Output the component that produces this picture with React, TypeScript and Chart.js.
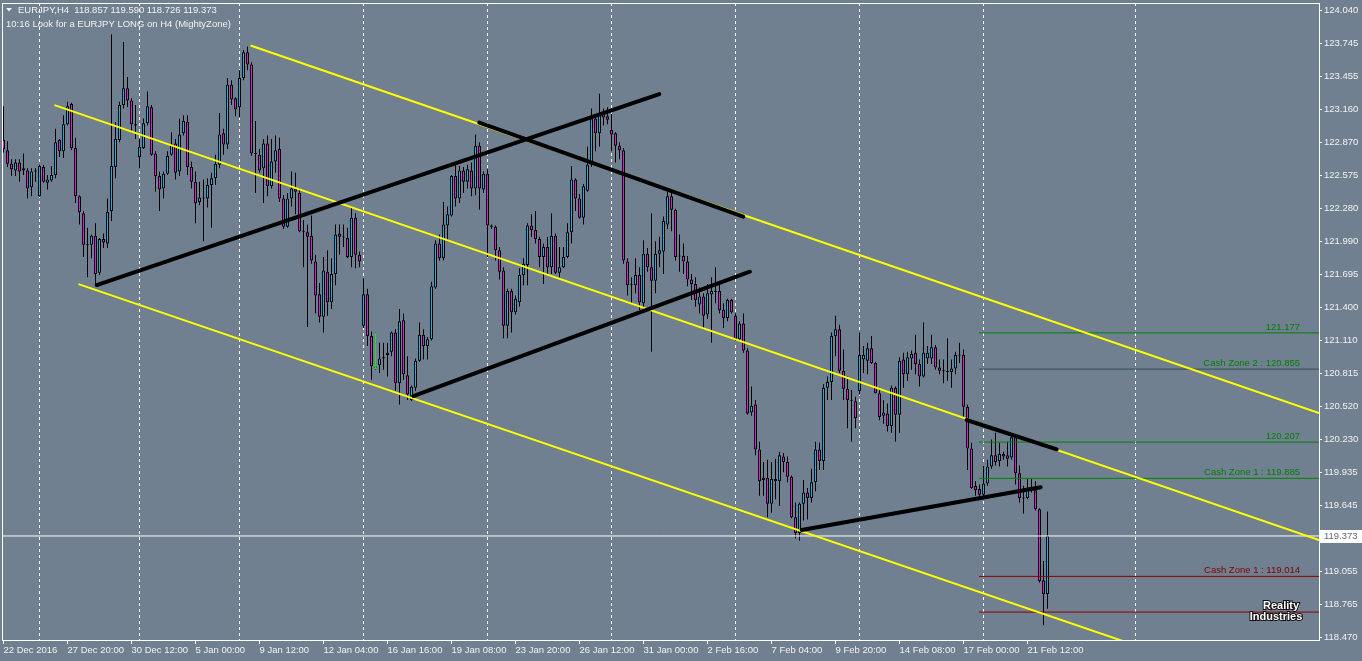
import React, { useEffect, useRef } from 'react';
import { Chart, registerables } from 'chart.js';
Chart.register(...registerables);

// ---------- DATA ----------
const opens = [
  122.89, 122.80, 122.68, 122.62, 122.69, 122.64, 122.62, 122.47, 122.61, 122.39,
  122.65, 122.51, 122.53, 122.58, 122.89, 122.79, 123.03, 123.21, 122.82, 122.39,
  122.24, 121.96, 121.96, 122.04, 121.71, 122.01, 121.97, 122.26, 122.65, 122.89,
  123.20, 123.35, 123.24, 123.03, 122.74, 122.82, 123.04, 123.18, 122.77, 122.57,
  122.46, 122.59, 122.76, 122.86, 122.61, 122.95, 123.05, 122.65, 122.52, 122.34,
  122.37, 122.37, 122.49, 122.55, 122.67, 122.95, 122.85, 123.38, 123.26, 123.18,
  123.44, 123.67, 123.56, 122.77, 122.76, 122.64, 122.86, 122.48, 122.70, 122.81,
  122.37, 122.12, 122.37, 122.46, 122.42, 122.08, 122.07, 122.04, 121.81, 121.52,
  121.32, 121.72, 121.45, 121.70, 122.06, 122.03, 122.02, 121.85, 122.20, 121.87,
  121.24, 121.52, 121.15, 120.88, 120.89, 120.95, 120.98, 121.01, 121.18, 120.73,
  121.29, 120.80, 120.58, 120.69, 120.93, 121.16, 121.06, 121.12, 121.58, 121.97,
  121.84, 122.13, 122.22, 122.57, 122.37, 122.62, 122.52, 122.62, 122.46, 122.84,
  122.45, 122.59, 122.13, 122.12, 121.91, 121.73, 121.24, 121.55, 121.36, 121.45,
  121.69, 121.78, 122.13, 122.09, 122.01, 121.85, 121.94, 121.76, 122.04, 121.71,
  121.76, 121.85, 122.07, 122.54, 122.37, 122.20, 122.44, 122.67, 123.08, 122.95,
  123.12, 123.10, 122.98, 122.95, 122.84, 122.80, 121.81, 121.61, 121.60, 121.69,
  121.44, 121.88, 121.76, 121.64, 121.88, 121.90, 122.14, 122.39, 122.27, 121.86,
  121.86, 121.81, 121.65, 121.61, 121.43, 121.50, 121.34, 121.52, 121.54, 121.55,
  121.38, 121.31, 121.47, 121.33, 121.12, 121.26, 121.02, 120.47, 120.54, 120.14,
  119.87, 119.89, 119.66, 119.88, 119.86, 120.08, 120.03, 119.90, 119.54, 119.40,
  119.66, 119.76, 119.71, 119.85, 120.14, 120.04, 120.69, 120.74, 121.15, 121.21,
  120.84, 120.68, 120.58, 120.57, 120.66, 120.94, 120.93, 121.04, 120.91, 120.64,
  120.44, 120.46, 120.35, 120.69, 120.45, 120.94, 120.81, 120.95, 121.00, 120.90,
  120.79, 120.95, 120.95, 121.05, 120.87, 120.84, 120.835, 120.83, 120.86, 120.98,
  120.98, 120.52, 120.15, 119.82, 119.79, 119.74, 119.84, 119.99, 120.09, 120.04,
  120.10, 120.09, 120.07, 120.25, 119.93, 119.71, 119.71, 119.79, 119.78, 119.61,
  118.98, 118.857,
];
const highs = [
  123.19, 122.88, 122.72, 122.72, 122.72, 122.77, 122.64, 122.64, 122.64, 122.67,
  122.67, 122.58, 122.66, 122.99, 122.90, 123.11, 123.23, 123.22, 122.91, 122.40,
  122.26, 122.11, 122.05, 122.15, 122.02, 122.06, 122.37, 123.83, 123.05, 123.23,
  123.76, 123.45, 123.26, 123.20, 122.90, 123.08, 123.32, 123.20, 122.79, 122.61,
  122.61, 122.79, 122.96, 122.90, 123.08, 123.11, 123.11, 122.70, 122.61, 122.52,
  122.54, 122.55, 122.60, 122.76, 123.13, 122.99, 123.44, 123.42, 123.27, 123.51,
  123.69, 123.72, 123.58, 123.06, 122.81, 122.90, 122.93, 122.90, 122.93, 122.91,
  122.40, 122.42, 122.61, 122.60, 122.46, 122.18, 122.14, 122.22, 121.87, 121.62,
  121.85, 121.91, 121.84, 122.14, 122.14, 122.14, 122.11, 122.30, 122.24, 121.90,
  121.66, 121.57, 121.19, 121.18, 121.09, 121.09, 121.09, 121.19, 121.21, 121.39,
  121.35, 120.97, 120.71, 120.95, 121.27, 121.21, 121.14, 121.63, 122.00, 122.05,
  122.34, 122.30, 122.58, 122.67, 122.66, 122.65, 122.67, 122.69, 122.94, 122.87,
  122.61, 122.63, 122.14, 122.13, 121.94, 121.76, 121.57, 121.57, 121.51, 121.75,
  121.84, 122.15, 122.23, 122.26, 122.03, 121.97, 122.03, 122.24, 122.06, 121.94,
  121.94, 122.15, 122.66, 122.55, 122.41, 122.50, 122.83, 123.17, 123.12, 123.30,
  123.17, 123.18, 123.12, 122.96, 122.87, 122.82, 121.84, 121.67, 121.84, 121.76,
  122.00, 121.93, 122.24, 121.99, 122.03, 122.21, 122.43, 122.42, 122.28, 122.05,
  121.97, 121.86, 121.70, 121.67, 121.58, 121.53, 121.61, 121.67, 121.76, 121.61,
  121.44, 121.48, 121.48, 121.35, 121.28, 121.35, 121.04, 120.70, 120.58, 120.21,
  120.03, 120.05, 120.03, 120.06, 120.12, 120.11, 120.08, 119.91, 119.67, 119.67,
  119.87, 119.80, 119.97, 120.21, 120.20, 120.72, 120.79, 121.18, 121.33, 121.25,
  121.03, 120.79, 120.67, 120.61, 121.18, 121.06, 121.09, 121.15, 120.92, 120.69,
  120.58, 120.55, 120.71, 120.70, 120.96, 121.00, 121.01, 121.02, 121.16, 120.94,
  121.27, 121.06, 121.16, 121.07, 120.94, 120.94, 121.13, 120.94, 121.01, 121.09,
  121.03, 120.54, 120.20, 119.86, 119.83, 120.00, 120.05, 120.23, 120.29, 120.20,
  120.12, 120.21, 120.27, 120.27, 120.00, 119.82, 119.88, 119.88, 119.86, 119.62,
  119.15, 119.590,
];
const lows = [
  122.78, 122.65, 122.57, 122.57, 122.52, 122.58, 122.37, 122.39, 122.52, 122.386,
  122.51, 122.45, 122.52, 122.55, 122.74, 122.73, 123.02, 122.80, 122.33, 122.14,
  121.85, 121.67, 121.84, 121.60, 121.69, 121.93, 121.93, 122.17, 122.55, 122.87,
  123.17, 123.18, 122.97, 122.90, 122.64, 122.81, 123.02, 122.75, 122.43, 122.26,
  122.37, 122.58, 122.75, 122.54, 122.57, 122.93, 122.58, 122.46, 122.15, 122.31,
  121.99, 122.29, 122.11, 122.49, 122.64, 122.76, 122.81, 123.20, 123.10, 123.09,
  123.42, 123.51, 122.75, 122.42, 122.60, 122.33, 122.39, 122.46, 122.60, 122.34,
  122.10, 122.11, 122.30, 122.23, 122.07, 121.76, 121.23, 121.79, 121.35, 121.27,
  121.18, 121.33, 121.39, 121.60, 121.87, 121.94, 121.84, 121.76, 121.75, 121.76,
  121.22, 121.06, 120.76, 120.85, 120.82, 120.85, 120.79, 120.97, 120.66, 120.54,
  120.76, 120.58, 120.57, 120.66, 120.92, 120.94, 120.94, 121.11, 121.57, 121.82,
  121.82, 121.99, 122.21, 122.30, 122.33, 122.42, 122.46, 122.39, 122.40, 122.27,
  122.42, 121.85, 122.10, 121.82, 121.65, 121.13, 121.13, 121.18, 121.34, 121.41,
  121.60, 121.60, 122.03, 121.97, 121.76, 121.61, 121.70, 121.70, 121.70, 121.67,
  121.75, 121.84, 121.97, 122.26, 122.19, 122.14, 122.43, 122.65, 122.79, 122.83,
  123.02, 123.03, 122.79, 122.69, 122.72, 121.79, 121.51, 121.44, 121.53, 121.38,
  121.36, 121.72, 121.01, 121.53, 121.76, 121.70, 122.10, 122.08, 121.82, 121.72,
  121.70, 121.59, 121.47, 121.41, 121.35, 121.21, 121.30, 121.09, 121.44, 121.35,
  121.22, 121.28, 121.35, 121.10, 121.10, 121.00, 120.45, 120.44, 120.09, 119.73,
  119.73, 119.54, 119.58, 119.70, 119.64, 119.94, 119.85, 119.53, 119.35, 119.33,
  119.51, 119.52, 119.67, 119.77, 119.96, 119.96, 120.58, 120.58, 120.97, 120.82,
  120.58, 120.33, 120.21, 120.33, 120.63, 120.82, 120.81, 120.90, 120.64, 120.40,
  120.37, 120.30, 120.29, 120.21, 120.29, 120.69, 120.75, 120.85, 120.81, 120.70,
  120.78, 120.90, 120.90, 120.85, 120.81, 120.73, 120.75, 120.69, 120.81, 120.91,
  120.42, 119.96, 119.79, 119.73, 119.71, 119.71, 119.82, 119.97, 120.00, 119.99,
  120.05, 119.99, 120.05, 119.83, 119.67, 119.57, 119.70, 119.76, 119.60, 118.96,
  118.58, 118.726,
];
const closes = [
  122.81, 122.68, 122.63, 122.69, 122.61, 122.62, 122.46, 122.61, 122.615, 122.66,
  122.52, 122.54, 122.58, 122.87, 122.79, 123.03, 123.19, 122.82, 122.39, 122.25,
  121.96, 121.955, 122.04, 121.70, 122.01, 121.98, 122.25, 122.66, 122.90, 123.20,
  123.35, 123.24, 123.03, 123.02, 122.83, 123.04, 123.19, 122.76, 122.57, 122.45,
  122.59, 122.75, 122.85, 122.60, 122.94, 123.06, 122.65, 122.52, 122.33, 122.38,
  122.375, 122.49, 122.55, 122.68, 122.94, 122.85, 123.38, 123.25, 123.16, 123.44,
  123.67, 123.56, 122.77, 122.765, 122.62, 122.86, 122.48, 122.70, 122.80, 122.37,
  122.12, 122.37, 122.46, 122.43, 122.08, 122.075, 122.03, 121.82, 121.51, 121.32,
  121.73, 121.45, 121.70, 122.05, 122.03, 122.025, 121.85, 122.20, 121.87, 121.81,
  121.52, 121.15, 120.88, 120.87, 120.95, 120.96, 121.00, 121.18, 120.73, 121.28,
  120.81, 120.63, 120.70, 120.93, 121.16, 121.06, 121.12, 121.59, 121.97, 121.84,
  122.14, 122.23, 122.57, 122.37, 122.62, 122.52, 122.63, 122.46, 122.84, 122.46,
  122.59, 122.13, 122.12, 121.91, 121.72, 121.24, 121.55, 121.36, 121.48, 121.69,
  121.79, 122.13, 122.09, 122.01, 121.85, 121.94, 121.76, 122.04, 121.71, 121.76,
  121.85, 122.07, 122.54, 122.37, 122.20, 122.48, 122.67, 123.08, 122.95, 123.12,
  123.09, 123.07, 122.94, 122.84, 122.80, 121.82, 121.60, 121.605, 121.69, 121.45,
  121.88, 121.76, 121.64, 121.88, 121.91, 122.17, 122.39, 122.27, 121.85, 121.855,
  121.81, 121.65, 121.61, 121.47, 121.50, 121.33, 121.53, 121.55, 121.545, 121.38,
  121.31, 121.47, 121.36, 121.12, 121.26, 121.02, 120.46, 120.53, 120.14, 119.86,
  119.89, 119.66, 119.88, 119.86, 120.09, 120.03, 119.90, 119.54, 119.40, 119.66,
  119.76, 119.71, 119.85, 120.14, 120.04, 120.69, 120.74, 121.15, 121.21, 120.84,
  120.68, 120.58, 120.575, 120.42, 120.98, 120.98, 121.04, 120.91, 120.64, 120.43,
  120.47, 120.35, 120.69, 120.45, 120.93, 120.81, 120.96, 120.99, 120.90, 120.79,
  121.00, 121.00, 121.05, 120.87, 120.84, 120.835, 120.83, 120.86, 120.98, 120.975,
  120.52, 120.15, 119.80, 119.78, 119.74, 119.84, 119.99, 120.09, 120.03, 120.10,
  120.08, 120.06, 120.25, 119.93, 119.71, 119.705, 119.79, 119.795, 119.61, 118.97,
  118.857, 119.373,
];

const xTickIdx = [0, 16, 32, 48, 64, 80, 96, 112, 128, 144, 160, 176, 192, 208, 224, 240, 256];
const xTickLabels = [
  '22 Dec 2016', '27 Dec 20:00', '30 Dec 12:00', '5 Jan 00:00', '9 Jan 12:00', '12 Jan 04:00',
  '16 Jan 16:00', '19 Jan 08:00', '23 Jan 20:00', '26 Jan 12:00', '31 Jan 00:00', '2 Feb 16:00',
  '7 Feb 04:00', '9 Feb 20:00', '14 Feb 08:00', '17 Feb 00:00', '21 Feb 12:00',
];
const gridIdx = [9, 34, 59, 90, 121, 152, 183, 214, 245, 283];
const yTickValues = [
  124.040, 123.745, 123.455, 123.160, 122.870, 122.575, 122.280, 121.990, 121.695, 121.400,
  121.110, 120.815, 120.520, 120.230, 119.935, 119.645, 119.055, 118.765, 118.470,
];

// channel & trend lines: [candle index, price]
const channelUpper = [[61.95, 123.727], [328.875, 120.465]];
const channelMiddle = [[12.95, 123.198], [328.875, 119.337]];
const channelLower = [[18.95, 121.608], [280.4, 118.433]];
const trendLines = [
  [[23.3, 121.602], [163.95, 123.298]],
  [[118.95, 123.044], [184.95, 122.209]],
  [[102.45, 120.616], [186.6, 121.72]],
  [[199.55, 119.426], [259.3, 119.806]],
  [[240.8, 120.403], [263.3, 120.143]],
];
// trade marker (green) at candle 93
const tradeMarkV = [[93, 121.177], [93, 120.855]];
const tradeMarkH = [[92.4, 120.883], [93.6, 120.883]];

const levelPrices = [121.177, 120.855, 120.207, 119.885, 119.014, 118.697];
const levelLabels = ['121.177', 'Cash Zone 2 : 120.855', '120.207', 'Cash Zone 1 : 119.885', 'Cash Zone 1 : 119.014', '118.697'];
const levelStartIdx = 243.875;

const symbol = 'EURJPY,H4';
const note = '10:16 Look for a EURJPY LONG on H4 (MightyZone)';
const lastPrice = 119.373;

// ---------- STYLE ----------
const X_MIN = -0.375;
const X_MAX = 328.875;
const Y_MIN = 118.449;
const Y_MAX = 124.107;
const BG = '#708090';
const BULL = '#13b4e4';
const BEAR = '#e21cd6';
const TEXT = '#f2f2f2';
const FONT_FAMILY = '"Liberation Sans", Arial, sans-serif';
const FONT = `9.5px ${FONT_FAMILY}`;
const levelLineColors = ['#008000', '#2f4f4f', '#008000', '#008000', '#8b0000', '#8b0000'];
const levelTextColors = ['#008000', '#008000', '#008000', '#008000', '#800000', '#800000'];

const overlayPlugin = {
  id: 'overlay',
  beforeDraw(chart: any) {
    const { ctx, width, height } = chart;
    ctx.save();
    ctx.fillStyle = BG;
    ctx.fillRect(0, 0, width, height);
    ctx.restore();
  },
  afterDraw(chart: any) {
    const { ctx, chartArea: a, scales } = chart;
    const ys = scales.y;
    ctx.save();
    // chart frame
    ctx.strokeStyle = '#ffffff';
    ctx.lineWidth = 1;
    ctx.strokeRect(a.left + 0.5, a.top + 0.5, a.right - a.left, a.bottom - a.top);

    // level labels
    ctx.font = FONT;
    ctx.textAlign = 'right';
    ctx.textBaseline = 'alphabetic';
    levelPrices.forEach((p, k) => {
      const py = ys.getPixelForValue(p);
      ctx.fillStyle = levelTextColors[k];
      ctx.fillText(levelLabels[k], a.right - 19, py - 3);
    });

    // header
    ctx.fillStyle = TEXT;
    ctx.beginPath();
    ctx.moveTo(6, 8);
    ctx.lineTo(12, 8);
    ctx.lineTo(9, 11.5);
    ctx.closePath();
    ctx.fill();
    ctx.textAlign = 'left';
    ctx.textBaseline = 'middle';
    const n = closes.length - 1;
    const head = `${symbol}  ${opens[n].toFixed(3)} ${highs[n].toFixed(3)} ${lows[n].toFixed(3)} ${closes[n].toFixed(3)}`;
    ctx.fillText(head, 18, 10.5);
    ctx.fillText(note, 6, 24.5);

    // current price box on the axis
    const py = Math.round(ys.getPixelForValue(lastPrice));
    ctx.fillStyle = '#ffffff';
    ctx.fillRect(a.right + 1, py - 6, 43, 13);
    ctx.fillStyle = '#5c6b7a';
    ctx.fillText(lastPrice.toFixed(3), a.right + 5, py + 0.5);

    // logo
    ctx.font = `bold 11px ${FONT_FAMILY}`;
    ctx.textAlign = 'center';
    ctx.lineWidth = 2;
    ctx.strokeStyle = '#111111';
    ctx.fillStyle = '#ffffff';
    ctx.strokeText('Reality', 1281, 606);
    ctx.fillText('Reality', 1281, 606);
    ctx.strokeText('Industries', 1276, 617);
    ctx.fillText('Industries', 1276, 617);
    ctx.restore();
  },
};

const seg = (pts: number[][], color: string, width: number, order: number, cap: string = 'round') => ({
  type: 'line' as const,
  data: pts.map(([x, y]) => ({ x, y })),
  borderColor: color,
  borderWidth: width,
  pointRadius: 0,
  fill: false,
  order,
  borderCapStyle: cap,
});

export default function App() {
  const ref = useRef<HTMLCanvasElement | null>(null);
  useEffect(() => {
    if (!ref.current) return;
    const idx = opens.map((_, i) => i);
    const wickData = idx.map((i) => ({ x: i, y: [lows[i], highs[i]] }));
    const bodyData = idx.map((i) => ({ x: i, y: [opens[i], closes[i]] }));
    const bodyColors = idx.map((i) => (closes[i] >= opens[i] ? BULL : BEAR));

    const datasets: any[] = [
      {
        type: 'bar',
        data: wickData,
        backgroundColor: '#000000',
        borderWidth: 0,
        barThickness: 1,
        grouped: false,
        inflateAmount: 0,
        order: 20,
      },
      {
        type: 'bar',
        data: bodyData,
        backgroundColor: bodyColors,
        borderColor: '#000000',
        borderWidth: 1,
        borderSkipped: false,
        barThickness: 3,
        grouped: false,
        inflateAmount: 0,
        minBarLength: 1,
        order: 19,
      },
      ...levelPrices.map((p, k) =>
        seg([[levelStartIdx, p], [X_MAX, p]], levelLineColors[k], 1, 8, 'butt')
      ),
      seg([[X_MIN, lastPrice], [X_MAX, lastPrice]], '#ffffff', 1, 7, 'butt'),
      seg(tradeMarkV, '#22dd22', 1, 6, 'butt'),
      seg(tradeMarkH, '#22dd22', 1, 6, 'butt'),
      seg(channelUpper, '#ffff00', 2, 3),
      seg(channelMiddle, '#ffff00', 2, 3),
      seg(channelLower, '#ffff00', 2, 3),
      ...trendLines.map((t) => seg(t, '#000000', 4, 2)),
    ];

    const chart = new Chart(ref.current, {
      type: 'bar',
      data: { datasets },
      options: {
        responsive: false,
        devicePixelRatio: 1,
        animation: false,
        events: [],
        layout: { padding: { left: 2, top: 3, right: 0, bottom: 0 } },
        plugins: { legend: { display: false }, tooltip: { enabled: false } },
        scales: {
          x: {
            type: 'linear',
            position: 'bottom',
            min: X_MIN,
            max: X_MAX,
            offset: false,
            afterBuildTicks: (s: any) => {
              s.ticks = xTickIdx.map((v) => ({ value: v }));
            },
            afterFit: (s: any) => {
              s.height = 21;
              s.paddingLeft = 0;
              s.paddingRight = 0;
            },
            grid: { drawOnChartArea: false, drawTicks: true, tickLength: 4, color: '#ffffff', offset: false },
            border: { display: false },
            ticks: {
              autoSkip: false,
              maxRotation: 0,
              minRotation: 0,
              align: 'start',
              padding: 1,
              color: TEXT,
              font: { family: FONT_FAMILY, size: 9.5 },
              callback: (_v: any, i: number) => xTickLabels[i],
            },
          },
          xg: {
            type: 'linear',
            position: 'top',
            min: X_MIN,
            max: X_MAX,
            offset: false,
            afterBuildTicks: (s: any) => {
              s.ticks = gridIdx.map((v) => ({ value: v }));
            },
            afterFit: (s: any) => {
              s.height = 0;
              s.paddingLeft = 0;
              s.paddingRight = 0;
            },
            grid: { drawOnChartArea: true, drawTicks: false, color: '#ffffff', lineWidth: 1, offset: false },
            border: { display: false, dash: [3, 3] },
            ticks: { display: false },
          },
          y: {
            type: 'linear',
            position: 'right',
            min: Y_MIN,
            max: Y_MAX,
            afterBuildTicks: (s: any) => {
              s.ticks = yTickValues.map((v) => ({ value: v }));
            },
            afterFit: (s: any) => {
              s.width = 43;
              s.paddingTop = 0;
              s.paddingBottom = 0;
            },
            grid: { drawOnChartArea: false, drawTicks: true, tickLength: 3, color: '#ffffff' },
            border: { display: false },
            ticks: {
              autoSkip: false,
              padding: 2,
              color: TEXT,
              font: { family: FONT_FAMILY, size: 9.5 },
              callback: (v: any) => Number(v).toFixed(3),
            },
          },
        },
      } as any,
      plugins: [overlayPlugin],
    });
    return () => chart.destroy();
  }, []);

  return (
    <div style={{ position: 'fixed', left: 0, top: 0, width: 1362, height: 661, background: BG }}>
      <canvas ref={ref} width={1362} height={661} style={{ display: 'block' }} />
    </div>
  );
}
